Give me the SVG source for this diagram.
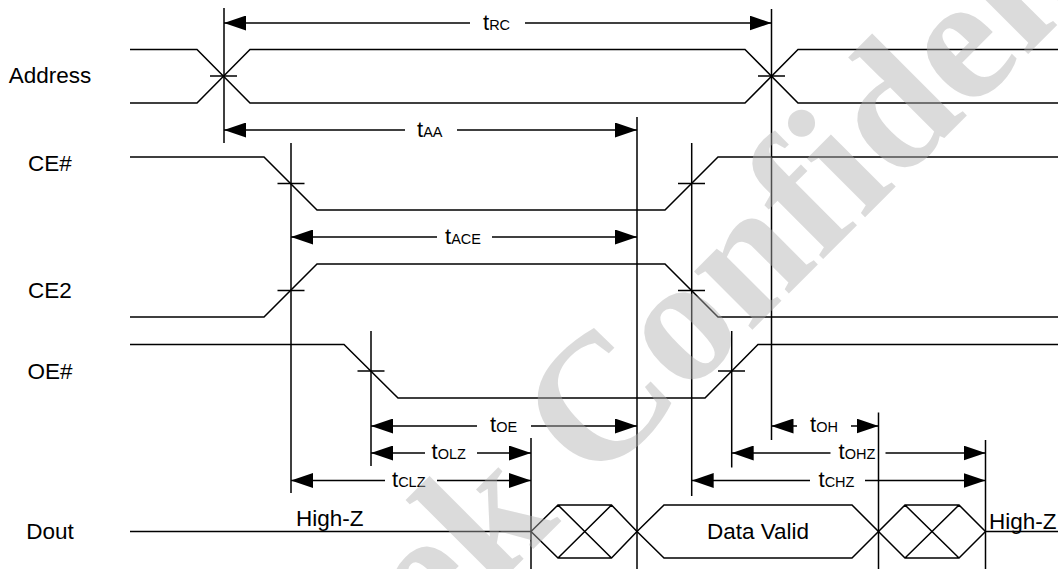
<svg xmlns="http://www.w3.org/2000/svg" width="1058" height="569" viewBox="0 0 1058 569">
<style>
.w{fill:none;stroke:#000;stroke-width:1.5}
.v{fill:none;stroke:#000;stroke-width:1.5}
.dl{fill:none;stroke:#000;stroke-width:1.5;marker-start:url(#ah)}
.dr{fill:none;stroke:#000;stroke-width:1.5;marker-end:url(#ah)}
.lbl{font-family:"Liberation Sans",Arial,sans-serif;font-size:22.5px;fill:#000}
.tl{font-family:"Liberation Sans",Arial,sans-serif;font-size:22px;fill:#000}
.sub{font-size:14.5px}
.wm{font-family:"Liberation Serif","Times New Roman",serif;font-weight:bold;font-size:180px;fill:#b0b0b0;fill-opacity:0.45}
</style>
<defs>
<marker id="ah" markerUnits="userSpaceOnUse" markerWidth="22" markerHeight="15" refX="22" refY="7.5" orient="auto-start-reverse" viewBox="0 0 22 15"><path d="M0,0 L22,7.5 L0,15 z" fill="#000"/></marker>
</defs>
<rect width="1058" height="569" fill="#fff"/>

<g id="address">
<text class="lbl" x="50" y="82.5" text-anchor="middle">Address</text>
<path class="w" d="M130,49.5 H197 L250,103 H745 L798,49.5 H1058"/>
<path class="w" d="M130,103 H197 L250,49.5 H745 L798,103 H1058"/>
<path class="w" d="M210,76 H237 M758,76 H785"/>
</g>

<g id="ce">
<text class="lbl" x="50" y="171" text-anchor="middle">CE#</text>
<path class="w" d="M130,157 H264 L317,210 H665 L718,157 H1058"/>
<path class="w" d="M277.5,183.5 H304.5 M678,183.5 H705"/>
</g>

<g id="ce2">
<text class="lbl" x="50" y="298" text-anchor="middle">CE2</text>
<path class="w" d="M130,317 H264 L317,264 H665 L718,317 H1058"/>
<path class="w" d="M277.5,290.5 H304.5 M678,290.5 H705"/>
</g>

<g id="oe">
<text class="lbl" x="50" y="379" text-anchor="middle">OE#</text>
<path class="w" d="M130,344.5 H344 L398,398 H705 L758,344.5 H1058"/>
<path class="w" d="M357.5,371 H384.5 M718,371 H745"/>
</g>

<g id="dout">
<text class="lbl" x="50" y="539" text-anchor="middle">Dout</text>
<path class="w" d="M130,531.5 H531"/>
<text class="lbl" x="296" y="526">High-Z</text>
<path class="w" d="M531,531.5 L558,505 H611.5 L637,531.5 L611.5,558 H558 Z M558,505 L611.5,558 M611.5,505 L558,558"/>
<path class="w" d="M637,531.5 L664,505 H852 L878.5,531.5 L852,558 H664 Z"/>
<text class="lbl" x="758" y="539" text-anchor="middle">Data Valid</text>
<path class="w" d="M878.5,531.5 L905,505 H959 L985.5,531.5 L959,558 H905 Z M905,505 L959,558 M959,505 L905,558"/>
<path class="w" d="M985.5,531.5 H1058"/>
<text class="lbl" x="989" y="529">High-Z</text>
</g>

<g id="connectors">
<path class="v" d="M224,8 V143 M771.5,9 V440 M637,117 V569 M291,143 V493 M691.7,143 V496 M371,331 V466 M731.7,331 V467.5 M531,438 V569 M878.5,412.5 V569 M985.5,440 V569"/>
<path class="dl" d="M224,23 H470"/><path class="dr" d="M525,23 H771.5"/>
<path class="dl" d="M224,130 H405"/><path class="dr" d="M457,130 H637"/>
<path class="dl" d="M291,237 H437"/><path class="dr" d="M492,237 H637"/>
<path class="dl" d="M371,426 H477"/><path class="dr" d="M531,426 H637"/>
<path class="dl" d="M371,453 H425"/><path class="dr" d="M477,453 H531"/>
<path class="dl" d="M291,480.5 H385"/><path class="dr" d="M437,480.5 H531"/>
<path class="dl" d="M771.5,426 H797"/><path class="dr" d="M851,426 H878.5"/>
<path class="dl" d="M731.7,453 H830.5"/><path class="dr" d="M885.5,453 H985.5"/>
<path class="dl" d="M691.7,480.5 H810"/><path class="dr" d="M865,480.5 H985.5"/>
</g>

<g id="labels">
<text class="tl" x="483" y="30">t<tspan class="sub">RC</tspan></text>
<text class="tl" x="417" y="137">t<tspan class="sub">AA</tspan></text>
<text class="tl" x="445" y="244">t<tspan class="sub">ACE</tspan></text>
<text class="tl" x="490" y="432">t<tspan class="sub">OE</tspan></text>
<text class="tl" x="431.5" y="459">t<tspan class="sub">OLZ</tspan></text>
<text class="tl" x="392" y="486.5">t<tspan class="sub">CLZ</tspan></text>
<text class="tl" x="810" y="432">t<tspan class="sub">OH</tspan></text>
<text class="tl" x="838.5" y="459">t<tspan class="sub">OHZ</tspan></text>
<text class="tl" x="818.5" y="487">t<tspan class="sub">CHZ</tspan></text>
</g>

<g id="watermark">
<text class="wm" transform="rotate(-2 600 385) translate(96,949) rotate(-43)">Lyontek Confidential</text>
</g>
</svg>
